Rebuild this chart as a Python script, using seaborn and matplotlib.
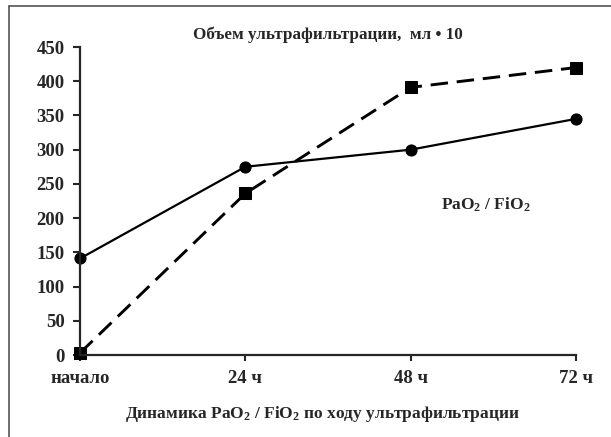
import numpy as np
import pandas as pd
import seaborn as sns
import matplotlib.pyplot as plt
from matplotlib.lines import Line2D

# data
time_labels = ['начало', '24 ч', '48 ч', '72 ч']
pao2_fio2 = [141, 275, 300, 345]          # solid, circles
ultrafiltration = [3, 236, 391, 420]      # dashed, squares (мл * 10)

sns.set_style('ticks')
plt.rcParams['font.family'] = ['Liberation Serif', 'DejaVu Serif']
plt.rcParams['font.weight'] = 'bold'
plt.rcParams['mathtext.fontset'] = 'custom'
plt.rcParams['mathtext.rm'] = 'Liberation Serif:bold'
plt.rcParams['mathtext.it'] = 'Liberation Serif:bold'
plt.rcParams['mathtext.bf'] = 'Liberation Serif:bold'
plt.rcParams['mathtext.default'] = 'rm'

pos = np.arange(len(time_labels))
df = pd.DataFrame({
    'pos': np.concatenate([pos, pos]),
    'value': pao2_fio2 + ultrafiltration,
    'series': ['pao2'] * len(pos) + ['uf'] * len(pos),
})

fig = plt.figure(figsize=(6.11, 4.37), dpi=100)
ax = fig.add_axes([80 / 611, 1 - 355 / 437, 496 / 611, 308 / 437])

sns.lineplot(data=df, x='pos', y='value', hue='series', style='series',
             palette={'pao2': 'black', 'uf': 'black'},
             dashes={'pao2': '', 'uf': (6, 3)},
             markers={'pao2': 'o', 'uf': 's'},
             markersize=8, markeredgecolor='black', linewidth=1.6,
             legend=False, ax=ax)
for ln in ax.lines:
    ln.set_clip_on(False)
ax.lines[1].set_linewidth(2.1)

ax.set_xlim(0, 3)
ax.set_ylim(0, 450)
ax.set_xticks(pos)
ax.set_xticklabels(time_labels)
ax.set_yticks(np.arange(0, 451, 50))
ax.tick_params(axis='y', length=5, width=1.5, pad=6, labelsize=13.5)
ax.tick_params(axis='x', length=4, width=1.5, pad=7, labelsize=13.5)
ax.set_xlabel('')
ax.set_ylabel('')
sns.despine(ax=ax)
for s in ['left', 'bottom']:
    ax.spines[s].set_linewidth(1.6)

fig.text(328 / 611, 1 - 35 / 437, 'Объем ультрафильтрации,  мл • 10',
         ha='center', va='center', fontsize=12.3, fontweight='bold')
fig.text(486 / 611, 1 - 205 / 437, r'PaO$_2$ / FiO$_2$',
         ha='center', va='center', fontsize=12.5, fontweight='bold')
fig.text(322 / 611, 1 - 414 / 437, r'Динамика PaO$_2$ / FiO$_2$ по ходу ультрафильтрации',
         ha='center', va='center', fontsize=12.5, fontweight='bold')

# partial frame around the figure (left and top only)
fig.add_artist(Line2D([9 / 611, 9 / 611], [0, 1 - 6 / 437], transform=fig.transFigure,
                      color='#555555', linewidth=1.2))
fig.add_artist(Line2D([9 / 611, 1], [1 - 6 / 437, 1 - 6 / 437], transform=fig.transFigure,
                      color='#555555', linewidth=1.2))

fig.savefig('out.png', dpi=100)
